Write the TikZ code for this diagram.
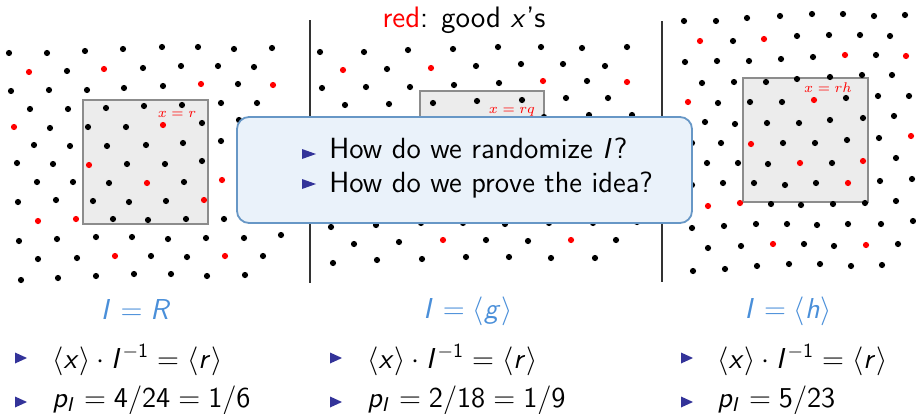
\documentclass[tikz,border=0pt]{standalone}
\usepackage{amsmath, amssymb}
\usepackage{tikz}
\renewcommand{\familydefault}{\sfdefault}
\DeclareMathVersion{sans}
\SetSymbolFont{operators}{sans}{OT1}{cmss}{m}{n}
\SetSymbolFont{letters}{sans}{OT1}{cmss}{m}{sl}
\DeclareMathSymbol{/}{\mathord}{operators}{"2F}
\definecolor{goodred}{HTML}{FF0000}
\definecolor{idealblue}{HTML}{4A8FD9}
\definecolor{itemblue}{rgb}{0.2,0.2,0.6}
\definecolor{askfill}{HTML}{EAF2FA}
\definecolor{askdraw}{HTML}{6797C6}
\definecolor{fundfill}{HTML}{ECECEC}
\definecolor{funddraw}{HTML}{8C8C8C}
\tikzset{
  bdot/.style     = {fill=black},
  rdot/.style     = {fill=goodred},
  fundbox/.style  = {fill=fundfill, draw=funddraw, line width=0.8pt},
  fundlab/.style  = {text=goodred, inner sep=0pt,
                     font=\mathversion{normal}\fontsize{7.5}{9}\selectfont},
  panelsep/.style = {draw=black!80, line width=0.6pt},
  askbox/.style   = {fill=askfill, draw=askdraw, line width=0.9pt,
                     rounded corners=6pt, inner sep=0pt},
  asktxt/.style   = {anchor=base west, inner sep=0pt,
                     font=\fontsize{14.6}{17}\selectfont},
  itemtri/.style  = {fill=itemblue},
  ideallab/.style = {anchor=base, inner sep=0pt, text=idealblue,
                     font=\fontsize{14.6}{17}\selectfont},
  itemtxt/.style  = {anchor=base west, inner sep=0pt,
                     font=\fontsize{14.6}{17}\selectfont},
  toptxt/.style   = {anchor=base, inner sep=0pt,
                     font=\fontsize{14.8}{17}\selectfont},
}

\begin{document}
\mathversion{sans}
\begin{tikzpicture}[x=0.5pt, y=-0.5pt]
  \useasboundingbox (0,0) rectangle (916,413);
  % fundamental domains
  \draw[fundbox] (83,100) rectangle (208,224);
  \draw[fundbox] (420,91) rectangle (544,215);
  \draw[fundbox] (743,78) rectangle (868,202);
  % lattice points, panel R
  \foreach \x/\y in {9/53,47/53,85/51,123/49,162/47,198/47,234/49,272/48,
      67/71,143/68,181/66,218/66,254/67,
      11/91,49/90,87/90,124/88,163/86,238/84,
      30/109,68/109,106/108,144/106,182/105,221/103,257/103,
      50/128,88/127,126/127,202/123,239/120,
      34/145,70/146,107/146,146/145,183/143,221/141,
      17/163,53/164,127/164,165/164,202/161,
      37/182,73/182,109/183,184/182,
      18/202,56/200,93/201,129/202,166/201,
      113/219,148/220,186/219,224/219,
      19/241,57/239,96/237,132/237,168/239,206/238,244/238,281/235,
      38/259,77/258,151/256,187/257,263/256,
      21/280,58/278,96/276,134/274,171/274,207/276,245/275}
    \fill[bdot] (\x,\y) circle[radius=1.55pt];
  \foreach \x/\y in {29/72,104/69,201/84,273/85,14/127,163/125,89/165,
      147/183,222/180,204/200,38/221,76/219,115/256,225/256}
    \fill[rdot] (\x,\y) circle[radius=1.55pt];
  % lattice points, panel g
  \foreach \x/\y in {320/52,364/52,408/50,453/49,498/47,541/47,582/48,627/47,
      387/69,476/66,521/64,563/64,605/66,
      322/88,366/87,410/87,454/85,499/83,587/81,
      345/105,389/104,433/103,477/101,522/100,566/98,608/98,
      544/117,589/115,632/115,
      331/227,376/225,421/223,463/223,505/224,549/223,593/223,637/222,
      354/244,399/242,486/240,528/241,616/240,
      333/263,377/260,422/259,466/257,509/257,551/258,595/258}
    \fill[bdot] (\x,\y) circle[radius=1.55pt];
  \foreach \x/\y in {343/70,431/68,543/81,627/82,443/240,571/240}
    \fill[rdot] (\x,\y) circle[radius=1.55pt];
  % lattice points, panel h
  \foreach \x/\y in {684/21,716/21,747/18,780/16,812/14,843/14,874/16,905/15,
      733/41,797/36,829/35,860/35,890/36,
      685/62,717/61,749/61,781/59,813/57,876/55,
      702/83,734/82,766/82,797/79,830/77,862/75,892/75,
      718/103,750/102,782/102,846/98,878/96,909/96,
      705/122,735/124,767/123,799/123,830/120,863/118,894/116,
      692/143,721/143,783/143,815/143,847/140,879/138,
      707/163,738/163,768/164,832/163,896/158,
      692/185,723/183,754/183,785/185,816/183,880/181,912/179,
      771/204,801/205,833/204,865/203,896/201,
      692/228,724/226,756/224,787/224,817/225,848/224,881/224,913/221,
      708/248,741/246,804/244,834/246,898/244,
      693/271,725/269,757/266,789/264,820/264,851/266,882/265}
    \fill[bdot] (\x,\y) circle[radius=1.55pt];
  \foreach \x/\y in {700/41,764/39,845/55,906/56,688/102,814/100,751/144,
      911/136,800/163,863/161,848/183,708/206,740/203,773/244,866/245}
    \fill[rdot] (\x,\y) circle[radius=1.55pt];
  \node[fundlab] (labr) at (177,114) {$x=r$};
  \node[fundlab] (labg) at (512,112) {$x=rq$};
  \node[fundlab] (labh) at (828,88) {$x=rh$};
  \draw[panelsep] (310,20) -- (310,283);
  \draw[panelsep] (662,21) -- (662,282);
  \node[toptxt] (head) at (464,27) {\textcolor{goodred}{red}: good $x$'s};
  % questions
  \node[askbox, minimum width=227.5pt, minimum height=53pt] (ask) at (464.5,170) {};
  \node[asktxt] (ask1) at (329,158) {How do we randomize $I$?};
  \node[asktxt] (ask2) at (329,192) {How do we prove the idea?};
  \foreach \bx/\by in {302/154,302/184}
    \fill[itemtri] (\bx,\by-5) -- ++(14,5) -- ++(-14,5) -- cycle;
  \foreach \bx/\by in {15/358,15/402,330/358,330/402,681/358,681/402}
    \fill[itemtri] (\bx,\by-5.5) -- ++(12,5.5) -- ++(-12,5.5) -- cycle;
  % ideals and probabilities
  \node[ideallab] (idr) at (136,319) {$I = R$};
  \node[ideallab] (idg) at (468,318) {$I = \langle g\rangle$};
  \node[ideallab] (idh) at (788,318) {$I = \langle h\rangle$};
  \node[itemtxt] (relr) at (52,368) {$\langle x\rangle\cdot I^{-1} = \langle r\rangle$};
  \node[itemtxt] (relg) at (367,368) {$\langle x\rangle\cdot I^{-1} = \langle r\rangle$};
  \node[itemtxt] (relh) at (717,368) {$\langle x\rangle\cdot I^{-1} = \langle r\rangle$};
  \node[itemtxt] (pr) at (52,407) {$p_I = 4/24 = 1/6$};
  \node[itemtxt] (pg) at (367,407) {$p_I = 2/18 = 1/9$};
  \node[itemtxt] (ph) at (717,407) {$p_I = 5/23$};
\end{tikzpicture}
\end{document}
